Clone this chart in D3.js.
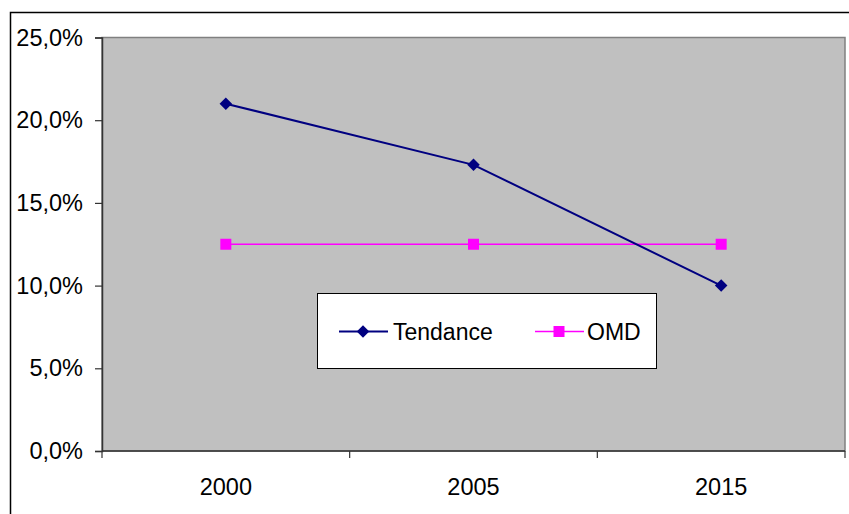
<!DOCTYPE html>
<html>
<head>
<meta charset="utf-8">
<script src="https://cdn.jsdelivr.net/npm/d3@7"></script>
<style>
  html, body { margin: 0; padding: 0; background: #fff; }
  svg { display: block; font-family: Arial, "Liberation Sans", sans-serif; }
</style>
</head>
<body>
<div class="visualize"></div>
<script>
// values
const years = ["2000", "2005", "2015"];
const tendance = [0.210, 0.173, 0.100];
const omd = [0.125, 0.125, 0.125];
const yTicks = [0, 0.05, 0.10, 0.15, 0.20, 0.25];
const seriesNames = ["Tendance", "OMD"];

const w = 849, h = 514;
const plotL = 102, plotR = 845, plotT = 37.5, plotB = 451;

const fr = d3.formatLocale({decimal: ",", thousands: " ", grouping: [3], currency: ["", " €"], percent: "%"});
const pct = fr.format(".1%");

const svg = d3.select(".visualize")
  .append("svg")
  .attr("width", w)
  .attr("height", h);

// outer chart border (runs off the picture right and bottom)
svg.append("rect")
  .attr("x", 10.5).attr("y", 12.5)
  .attr("width", 900).attr("height", 600)
  .attr("fill", "#fff")
  .attr("stroke", "#000")
  .attr("stroke-width", 1.5);

const x = d3.scaleBand().domain(years).range([plotL, plotR]).padding(0);
const y = d3.scaleLinear().domain([0, 0.25]).range([plotB, plotT]);

// plot area
svg.append("rect")
  .attr("x", plotL).attr("y", plotT)
  .attr("width", plotR - plotL).attr("height", plotB - plotT)
  .attr("fill", "#c0c0c0")
  .attr("stroke", "#808080")
  .attr("stroke-width", 1.5);

// y axis
const yAxis = svg.append("g")
  .attr("transform", `translate(${plotL},0)`)
  .call(d3.axisLeft(y).tickValues(yTicks).tickSize(7).tickPadding(12).tickFormat(pct));
yAxis.select(".domain").attr("stroke", "#333").attr("stroke-width", 1.5);
yAxis.selectAll(".tick line").attr("stroke", "#333").attr("stroke-width", 1.2);
yAxis.selectAll("text")
  .attr("font-size", "23.5px")
  .attr("font-family", "Arial, 'Liberation Sans', sans-serif")
  .attr("fill", "#000");

// x axis: labels at category centres, ticks at the boundaries
const xAxis = svg.append("g")
  .attr("transform", `translate(0,${plotB})`)
  .call(d3.axisBottom(x).tickSize(0).tickPadding(27));
xAxis.select(".domain").remove();
xAxis.selectAll("text")
  .attr("font-size", "23.5px")
  .attr("font-family", "Arial, 'Liberation Sans', sans-serif")
  .attr("fill", "#000");

const bounds = years.map(d => x(d)).concat([x(years[years.length - 1]) + x.bandwidth()]);
svg.append("line")
  .attr("x1", plotL).attr("x2", plotR)
  .attr("y1", plotB).attr("y2", plotB)
  .attr("stroke", "#333").attr("stroke-width", 1.5);
svg.selectAll(".xtick")
  .data(bounds)
  .enter()
  .append("line")
  .attr("class", "xtick")
  .attr("x1", d => d).attr("x2", d => d)
  .attr("y1", plotB).attr("y2", plotB + 7)
  .attr("stroke", "#333").attr("stroke-width", 1.2);

const cx = d => x(d) + x.bandwidth() / 2;

// OMD series
const line = d3.line().x(d => cx(d[0])).y(d => y(d[1]));
const omdPts = years.map((d, i) => [d, omd[i]]);
const tenPts = years.map((d, i) => [d, tendance[i]]);

svg.append("path")
  .attr("d", line(omdPts))
  .attr("fill", "none")
  .attr("stroke", "#ff00ff")
  .attr("stroke-width", 1.5);

svg.selectAll(".sq")
  .data(omdPts)
  .enter()
  .append("rect")
  .attr("class", "sq")
  .attr("x", d => cx(d[0]) - 5.5)
  .attr("y", d => y(d[1]) - 5.5)
  .attr("width", 11).attr("height", 11)
  .attr("fill", "#ff00ff");

// Tendance series
svg.append("path")
  .attr("d", line(tenPts))
  .attr("fill", "none")
  .attr("stroke", "#000080")
  .attr("stroke-width", 2);

const diamond = d3.symbol().type(d3.symbolDiamond2).size(100);
svg.selectAll(".dm")
  .data(tenPts)
  .enter()
  .append("path")
  .attr("class", "dm")
  .attr("d", diamond)
  .attr("transform", d => `translate(${cx(d[0])},${y(d[1])})`)
  .attr("fill", "#000080");

// legend
const lg = svg.append("g");
lg.append("rect")
  .attr("x", 317.5).attr("y", 293.5)
  .attr("width", 339).attr("height", 75)
  .attr("fill", "#fff")
  .attr("stroke", "#000")
  .attr("stroke-width", 1);

const legendItems = [
  {name: seriesNames[0], color: "#000080", x0: 339, kind: "diamond", tx: 393},
  {name: seriesNames[1], color: "#ff00ff", x0: 535, kind: "square", tx: 587}
];
const ly = 331.5;
legendItems.forEach(it => {
  lg.append("line")
    .attr("x1", it.x0).attr("x2", it.x0 + 49)
    .attr("y1", ly).attr("y2", ly)
    .attr("stroke", it.color)
    .attr("stroke-width", it.kind === "diamond" ? 2 : 1.5);
  if (it.kind === "diamond") {
    lg.append("path")
      .attr("d", diamond)
      .attr("transform", `translate(${it.x0 + 24},${ly})`)
      .attr("fill", it.color);
  } else {
    lg.append("rect")
      .attr("x", it.x0 + 24 - 5.5).attr("y", ly - 5.5)
      .attr("width", 11).attr("height", 11)
      .attr("fill", it.color);
  }
  lg.append("text")
    .attr("x", it.tx).attr("y", ly)
    .attr("dy", "0.35em")
    .attr("font-size", "23px")
    .attr("fill", "#000")
    .text(it.name);
});
</script>
</body>
</html>
